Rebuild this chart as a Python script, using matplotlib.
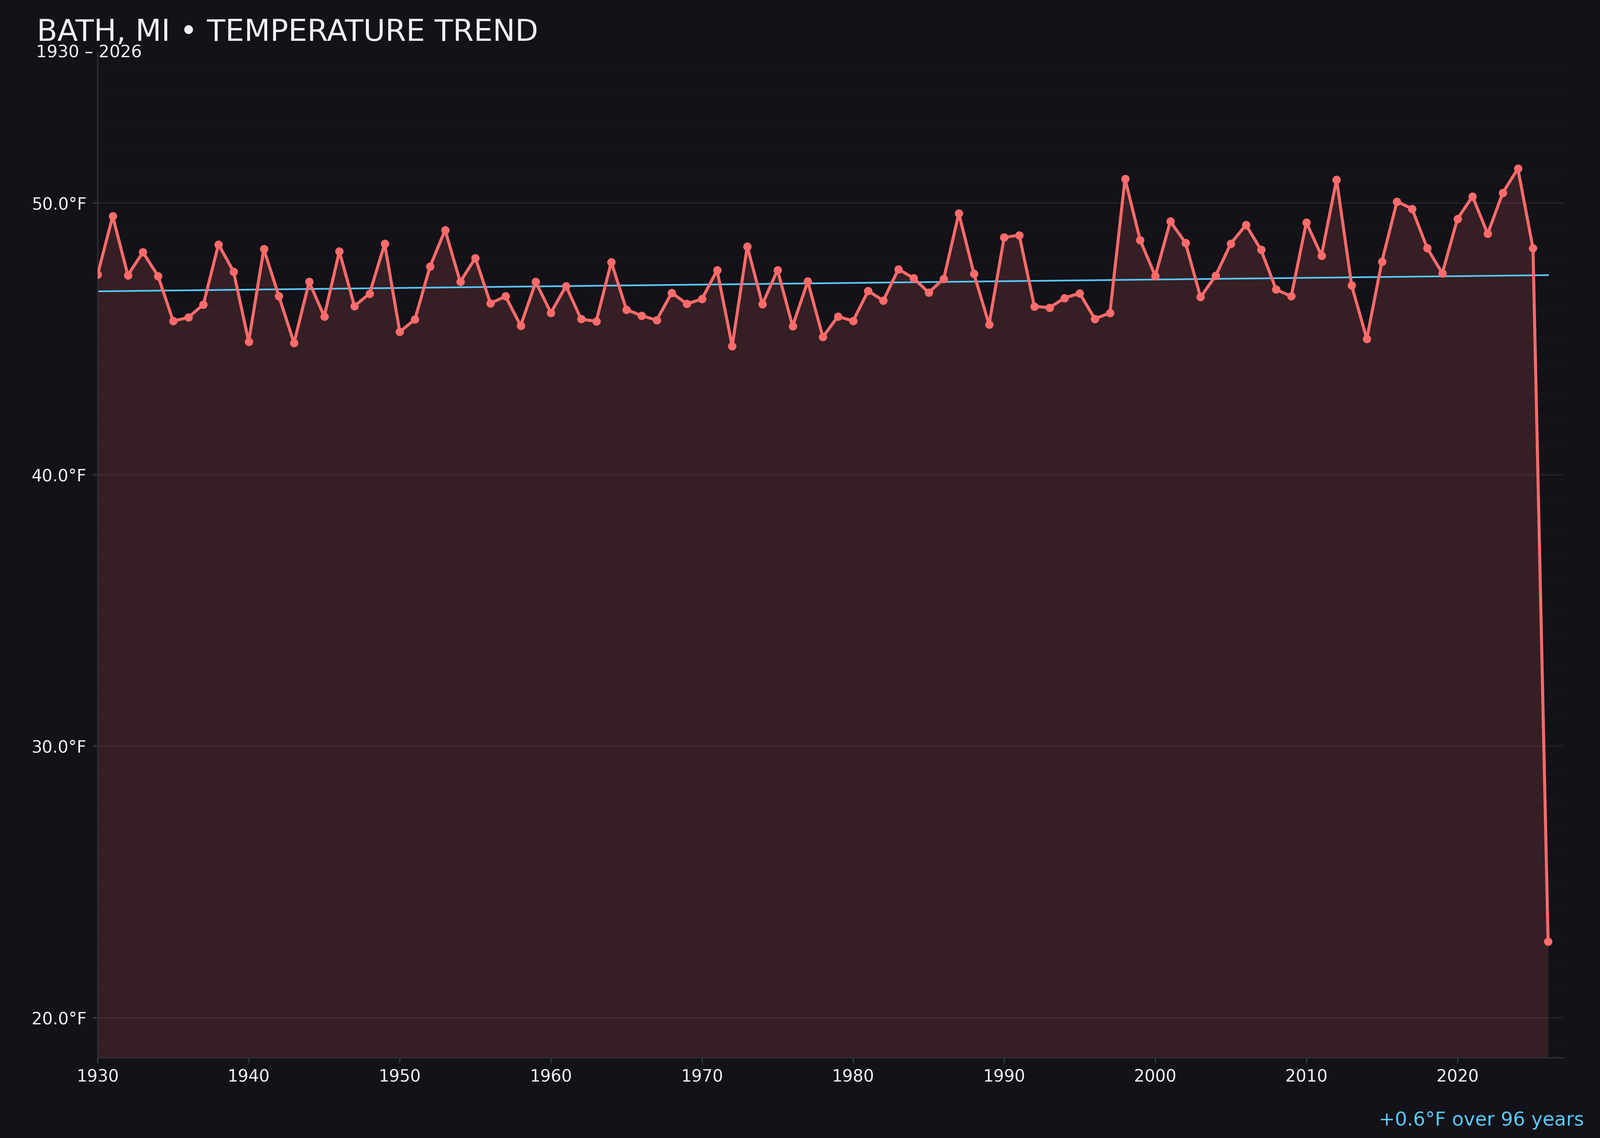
import matplotlib.pyplot as plt
from matplotlib.ticker import MultipleLocator, FuncFormatter
import numpy as np

# --- Data (annual mean temperature, °F) ---
years = list(range(1930, 2027))
temps = [
    47.36, 49.51, 47.34, 48.18, 47.31, 45.65, 45.78, 46.26, 48.47, 47.47,  # 1930s
    44.89, 48.30, 46.56, 44.84, 47.09, 45.82, 48.21, 46.20, 46.66, 48.49,  # 1940s
    45.25, 45.71, 47.65, 49.00, 47.09, 47.97, 46.30, 46.56, 45.48, 47.09,  # 1950s
    45.95, 46.94, 45.72, 45.64, 47.82, 46.07, 45.85, 45.68, 46.69, 46.28,  # 1960s
    46.46, 47.52, 44.73, 48.40, 46.27, 47.53, 45.46, 47.11, 45.06, 45.82,  # 1970s
    45.65, 46.76, 46.40, 47.56, 47.23, 46.70, 47.20, 49.61, 47.39, 45.52,  # 1980s
    48.73, 48.81, 46.19, 46.14, 46.50, 46.67, 45.73, 45.95, 50.89, 48.63,  # 1990s
    47.31, 49.32, 48.53, 46.53, 47.32, 48.50, 49.19, 48.27, 46.81, 46.56,  # 2000s
    49.28, 48.06, 50.86, 46.96, 44.99, 47.84, 50.05, 49.78, 48.33, 47.41,  # 2010s
    49.41, 50.24, 48.86, 50.37, 51.26, 48.33, 22.80,                       # 2020s
]
x_ticks = [1930, 1940, 1950, 1960, 1970, 1980, 1990, 2000, 2010, 2020]
y_ticks = [20, 30, 40, 50]

# --- Colours ---
bg = '#121218'
red = '#ff6b6b'
blue = '#5ac8fa'
text_col = '#f0f0f5'

x = np.array(years)
y = np.array(temps)

# linear trend
coef = np.polyfit(x, y, 1)
trend = np.polyval(coef, x)

fig = plt.figure(figsize=(4000 / 300, 2844 / 300), dpi=300, facecolor=bg)
ax = fig.add_axes([0.061, 0.0707, 0.916, 0.883])
ax.set_facecolor(bg)

span = y.max() - y.min()
ax.set_ylim(y.min() - 0.15 * span, y.max() + 0.15 * span)
ax.set_xlim(1930, 2027)

ax.fill_between(x, y, ax.get_ylim()[0], color=red, alpha=0.15, linewidth=0)
ax.plot(x, y, color=red, linewidth=1.8, marker='o', markersize=4, zorder=3)
ax.plot(x, trend, color=blue, linewidth=1.0, zorder=2)

# axes styling
ax.set_xticks(x_ticks)
ax.set_yticks(y_ticks)
ax.yaxis.set_minor_locator(MultipleLocator(1))
ax.yaxis.set_major_formatter(FuncFormatter(lambda v, p: f'{v:.1f}°F'))
ax.tick_params(axis='both', which='major', colors='#3a3a42', labelcolor=text_col,
               labelsize=10, length=3, width=0.8)
ax.tick_params(axis='y', which='minor', length=0)
ax.grid(axis='y', which='major', color='#222228', linewidth=0.8)
ax.grid(axis='y', which='minor', color='#17171d', linewidth=0.5)
ax.set_axisbelow(True)
for side in ['top', 'right']:
    ax.spines[side].set_visible(False)
for side in ['left', 'bottom']:
    ax.spines[side].set_color('#2e2e36')
    ax.spines[side].set_linewidth(0.8)

# titles
fig.text(0.023, 0.964, 'BATH, MI • TEMPERATURE TREND', color=text_col,
         fontsize=18, ha='left', va='baseline')
fig.text(0.0225, 0.9495, '1930 – 2026', color=text_col,
         fontsize=10.2, ha='left', va='baseline')
fig.text(0.99, 0.011, '+0.6°F over 96 years', color=blue,
         fontsize=11.5, ha='right', va='baseline')

fig.savefig('out.png', dpi=300, facecolor=bg)
